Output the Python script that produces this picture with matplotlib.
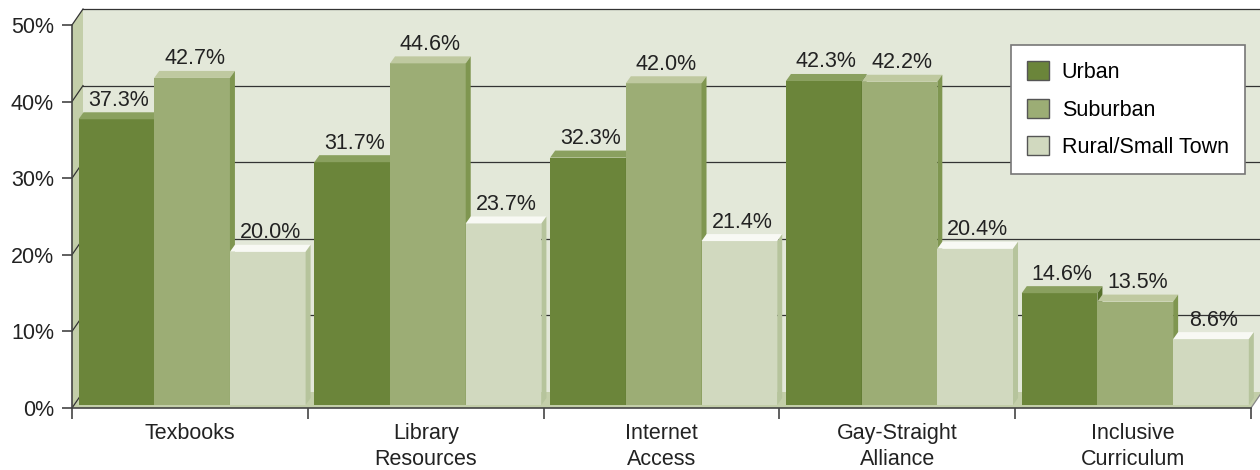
import matplotlib.pyplot as plt
from matplotlib.patches import Polygon
import numpy as np

plt.rcParams['font.family'] = ['Liberation Sans', 'DejaVu Sans']

categories = ["Texbooks", "Library\nResources", "Internet\nAccess",
              "Gay-Straight\nAlliance", "Inclusive\nCurriculum"]
series = ["Urban", "Suburban", "Rural/Small Town"]
urban = [37.3, 31.7, 32.3, 42.3, 14.6]
suburban = [42.7, 44.6, 42.0, 42.2, 13.5]
rural = [20.0, 23.7, 21.4, 20.4, 8.6]
yticks = [0, 10, 20, 30, 40, 50]

front = ["#6b853a", "#9cad75", "#d1d9bf"]
tops = ["#8aa05f", "#bfc9a0", "#f8f9f4"]
sides = ["#56702b", "#7f9650", "#b6c49c"]
fs = 15.5

fig = plt.figure(figsize=(12.6, 4.7), dpi=100)
ax = fig.add_axes([72 / 1260, 62 / 470, 1179 / 1260, 383 / 470])
ax.set_xlim(0, 5)
ax.set_ylim(0, 50)
ax.set_facecolor("none")

# pixel -> data unit helpers for the fake 3d depth
px_x = 1179 / 5
px_y = 383 / 50
WX, WY = 11 / px_x, 16 / px_y      # wall depth
BX, BY = 3 / px_x, 3 / px_y        # bars sit a little behind the front
TX, TY = 5 / px_x, 7 / px_y        # bar depth

# back wall, left wall, floor
ax.add_patch(Polygon([(WX, WY), (5 + WX + 1, WY), (5 + WX + 1, 50 + WY), (WX, 50 + WY)],
                     closed=True, fc="#e3e8d9", ec="none", zorder=0.5, clip_on=False))
ax.add_patch(Polygon([(0, 0), (WX, WY), (WX, 50 + WY), (0, 50)],
                     closed=True, fc="#c3cea9", ec="none", zorder=0.6, clip_on=False))
ax.add_patch(Polygon([(0, 0), (5, 0), (5 + WX, WY), (WX, WY)],
                     closed=True, fc="#c3cea9", ec="none", zorder=0.6, clip_on=False))

for v in yticks:
    ax.plot([0, WX], [v, v + WY], color="#333333", lw=0.9, zorder=0.7, clip_on=False)
    if v > 0:
        ax.plot([WX, 5 + WX + 1], [v + WY, v + WY], color="#333333", lw=0.9,
                zorder=0.7, clip_on=False)
ax.plot([5, 5 + WX], [0, WY], color="#888888", lw=0.9, zorder=0.7, clip_on=False)

bw = 0.321
start = 0.015
x = np.arange(len(categories))
for j, vals in enumerate([urban, suburban, rural]):
    lefts = x + start + j * bw + BX
    bars = ax.bar(lefts, vals, width=bw, bottom=BY, align="edge",
                  color=front[j], zorder=2 + j * 0.01, label=series[j],
                  edgecolor="none")
    for l, v in zip(lefts, vals):
        h = v + BY
        ax.add_patch(Polygon([(l, h), (l + bw, h), (l + bw + TX, h + TY), (l + TX, h + TY)],
                             closed=True, fc=tops[j], ec="none", zorder=2 + j * 0.01,
                             clip_on=False))
        ax.add_patch(Polygon([(l + bw, BY), (l + bw + TX, BY + TY), (l + bw + TX, h + TY),
                              (l + bw, h)],
                             closed=True, fc=sides[j], ec="none", zorder=2 + j * 0.01,
                             clip_on=False))
        ax.text(l + bw / 2 + TX / 2, h + TY + 0.2, f"{v:.1f}%", ha="center", va="bottom",
                fontsize=fs, color="#222222", zorder=4)

for s in ["top", "right"]:
    ax.spines[s].set_visible(False)
for s in ["left", "bottom"]:
    ax.spines[s].set_color("#444444")
    ax.spines[s].set_linewidth(1.2)
    ax.spines[s].set_zorder(3)

ax.set_yticks(yticks)
ax.set_yticklabels([f"{v}%" for v in yticks])
ax.set_xticks(np.arange(0, 6))
ax.set_xticklabels([])
ax.set_xticks(x + 0.5, minor=True)
ax.set_xticklabels(categories, minor=True, fontsize=fs, color="#222222", linespacing=1.3)
ax.tick_params(axis="x", which="minor", length=0, pad=11)
ax.tick_params(axis="x", which="major", length=8, width=1.2, color="#444444")
ax.tick_params(axis="y", length=7, width=1.2, color="#444444", labelsize=fs,
               labelcolor="#222222", pad=6)

leg = ax.legend(loc="upper left", bbox_to_anchor=(0.7965, 0.948), borderaxespad=0,
                fontsize=fs, frameon=True, fancybox=False, handlelength=1.0,
                handleheight=1.0, handletextpad=0.6, labelspacing=0.72,
                borderpad=0.75)
leg.get_frame().set_edgecolor("#777777")
leg.get_frame().set_linewidth(1.2)
leg.get_frame().set_facecolor("white")
leg.get_frame().set_alpha(1)
for h in leg.legend_handles:
    h.set_edgecolor("#555555")
    h.set_linewidth(1)
leg.set_zorder(5)

fig.savefig("out.png", dpi=100)
